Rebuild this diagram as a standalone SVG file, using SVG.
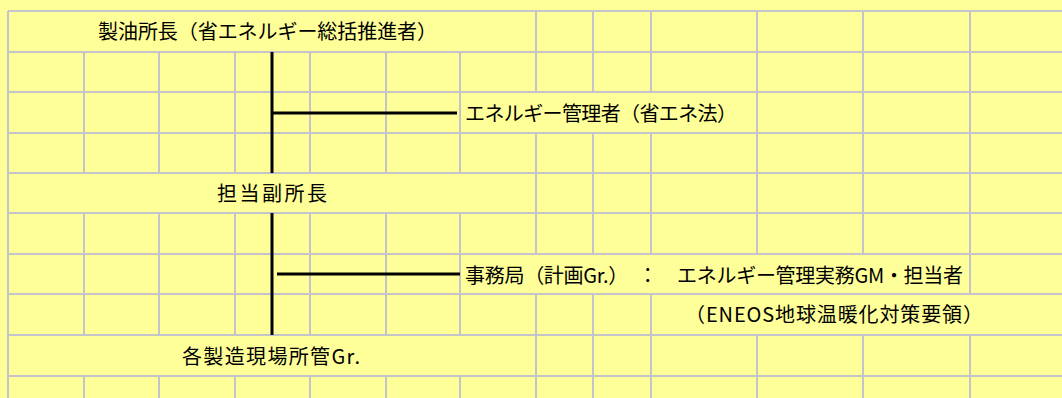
<svg xmlns="http://www.w3.org/2000/svg" width="1062" height="398" viewBox="0 0 1062 398">
<style>
.grid{stroke:#C4C4CA;stroke-width:2;fill:none}
.conn{stroke:#000;stroke-width:3;fill:none}
.t{font-family:"Noto Sans CJK JP","Noto Sans",sans-serif;font-size:20px;fill:#000}
</style>
<rect x="0" y="0" width="1062" height="398" fill="#FFFF99"/>
<g id="grid" class="grid">
<path d="M8,11H1062M8,52H1062M8,92H1062M8,133H1062M8,173H1062M8,213H1062M8,254H1062M8,294H1062M8,335H1062M8,376H1062"/>
<path d="M8,11V398"/>
<path d="M84,52V173M84,213V335M84,376V398M159,52V173M159,213V335M159,376V398M235,52V173M235,213V335M235,376V398M310,52V173M310,213V335M310,376V398M386,52V173M386,213V335M386,376V398M460,52V173M460,213V335M460,376V398"/>
<path d="M536,11V92M536,133V254M536,294V398M593,11V92M593,133V254M593,294V398M651,11V92M651,133V254M651,294V398"/>
<path d="M757,11V254M757,335V398M863,11V254M863,335V398M970,11V294M970,335V398"/>
</g>
<g id="connectors" class="conn">
<path d="M272,52V173"/>
<path d="M272,113H457"/>
<path d="M272,213V335"/>
<path d="M277,274H460"/>
</g>
<g id="node-director"><text class="t" x="98" y="39" textLength="339" lengthAdjust="spacing">製油所長（省エネルギー総括推進者）</text></g>
<g id="node-energy-manager"><text class="t" x="465" y="121" textLength="272" lengthAdjust="spacing">エネルギー管理者（省エネ法）</text></g>
<g id="node-deputy"><text class="t" x="217" y="201" textLength="110" lengthAdjust="spacing">担当副所長</text></g>
<g id="node-secretariat"><text class="t" x="465" y="283" textLength="498" lengthAdjust="spacing">事務局（計画Gr.）　：　エネルギー管理実務GM・担当者</text>
<text class="t" x="685" y="322" textLength="298" lengthAdjust="spacing">（ENEOS地球温暖化対策要領）</text></g>
<g id="node-sites"><text class="t" x="182" y="364" textLength="178" lengthAdjust="spacing">各製造現場所管Gr.</text></g>
</svg>
